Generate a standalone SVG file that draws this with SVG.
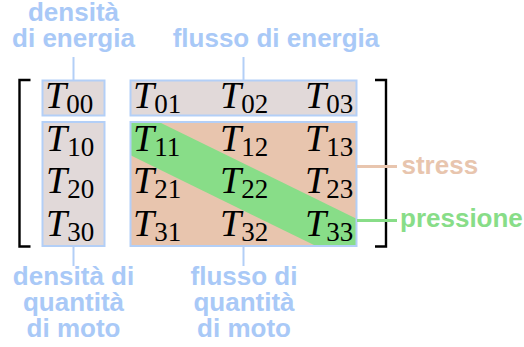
<svg xmlns="http://www.w3.org/2000/svg" width="524" height="347" viewBox="0 0 524 347">
<style>
.box{fill:#e1d9d9;stroke:#b3cff7;stroke-width:2}
.sbox{fill:#e8c5ae}
.sborder{fill:none;stroke:#b3cff7;stroke-width:2}
.lbl{font-family:"Liberation Sans",Arial,sans-serif;font-weight:bold;font-size:26px;fill:#a9c9f7;text-anchor:middle}
.m{font-family:"Liberation Serif","Times New Roman",serif;font-size:38px;fill:#000}
.m .t{font-style:italic}
.m .s{font-size:27px}
.lead{stroke:#b3cff7;stroke-width:2;fill:none}
.br{stroke:#000;stroke-width:2.4;fill:none}
</style>
<g id="brackets">
<path class="br" d="M30.5,80 H19.5 V246.5 H30.5"/>
<path class="br" d="M375,80 H386 V246.5 H375"/>
</g>
<g id="energy-density">
<rect class="box" x="42.5" y="80.5" width="62" height="35"/>
<text class="m" x="45" y="108"><tspan class="t">T</tspan><tspan class="s" dy="5">00</tspan></text>
</g>
<g id="energy-flux">
<rect class="box" x="130.5" y="80.5" width="226" height="35"/>
<text class="m" x="133" y="108"><tspan class="t">T</tspan><tspan class="s" dy="5">01</tspan></text>
<text class="m" x="220" y="108"><tspan class="t">T</tspan><tspan class="s" dy="5">02</tspan></text>
<text class="m" x="305" y="108"><tspan class="t">T</tspan><tspan class="s" dy="5">03</tspan></text>
</g>
<g id="momentum-density">
<rect class="box" x="42.5" y="122" width="62" height="124"/>
<text class="m" x="46" y="150.7"><tspan class="t">T</tspan><tspan class="s" dy="5">10</tspan></text>
<text class="m" x="46" y="193.4"><tspan class="t">T</tspan><tspan class="s" dy="5">20</tspan></text>
<text class="m" x="46" y="236.1"><tspan class="t">T</tspan><tspan class="s" dy="5">30</tspan></text>
</g>
<g id="stress-box">
<rect class="sbox" x="130.5" y="122" width="226" height="124"/>
<polygon fill="#88dd88" points="130,122 159,122 357,219 357,246 316,246 130,155"/>
<rect class="sborder" x="130.5" y="122" width="226" height="124"/>
<text class="m" x="133" y="150.7"><tspan class="t">T</tspan><tspan class="s" dy="5">11</tspan></text>
<text class="m" x="220" y="150.7"><tspan class="t">T</tspan><tspan class="s" dy="5">12</tspan></text>
<text class="m" x="305" y="150.7"><tspan class="t">T</tspan><tspan class="s" dy="5">13</tspan></text>
<text class="m" x="133" y="193.4"><tspan class="t">T</tspan><tspan class="s" dy="5">21</tspan></text>
<text class="m" x="220" y="193.4"><tspan class="t">T</tspan><tspan class="s" dy="5">22</tspan></text>
<text class="m" x="305" y="193.4"><tspan class="t">T</tspan><tspan class="s" dy="5">23</tspan></text>
<text class="m" x="133" y="236.1"><tspan class="t">T</tspan><tspan class="s" dy="5">31</tspan></text>
<text class="m" x="220" y="236.1"><tspan class="t">T</tspan><tspan class="s" dy="5">32</tspan></text>
<text class="m" x="305" y="236.1"><tspan class="t">T</tspan><tspan class="s" dy="5">33</tspan></text>
</g>
<g id="connectors">
<line class="lead" x1="73.5" y1="57" x2="73.5" y2="80"/>
<line class="lead" x1="243.5" y1="57" x2="243.5" y2="80"/>
<line class="lead" x1="73.5" y1="246" x2="73.5" y2="266"/>
<line class="lead" x1="243.5" y1="246" x2="243.5" y2="266"/>
<line stroke="#e8c5ae" stroke-width="3" x1="357" y1="166.5" x2="397" y2="166.5"/>
<line stroke="#88dd88" stroke-width="3" x1="357" y1="220.5" x2="397" y2="220.5"/>
</g>
<g id="label-energy-density">
<text class="lbl" x="73.5" y="21">densità</text>
<text class="lbl" x="73.5" y="47">di energia</text>
</g>
<g id="label-energy-flux">
<text class="lbl" x="276" y="47">flusso di energia</text>
</g>
<g id="label-momentum-density">
<text class="lbl" x="73.5" y="285">densità di</text>
<text class="lbl" x="73.5" y="311">quantità</text>
<text class="lbl" x="73.5" y="337">di moto</text>
</g>
<g id="label-momentum-flux">
<text class="lbl" x="244" y="285">flusso di</text>
<text class="lbl" x="244" y="311">quantità</text>
<text class="lbl" x="244" y="337">di moto</text>
</g>
<g id="label-stress">
<text class="lbl" x="401.5" y="174" style="fill:#e8c5ae;text-anchor:start">stress</text>
</g>
<g id="label-pressure">
<text class="lbl" x="400" y="227" style="fill:#88dd88;text-anchor:start">pressione</text>
</g>
</svg>
